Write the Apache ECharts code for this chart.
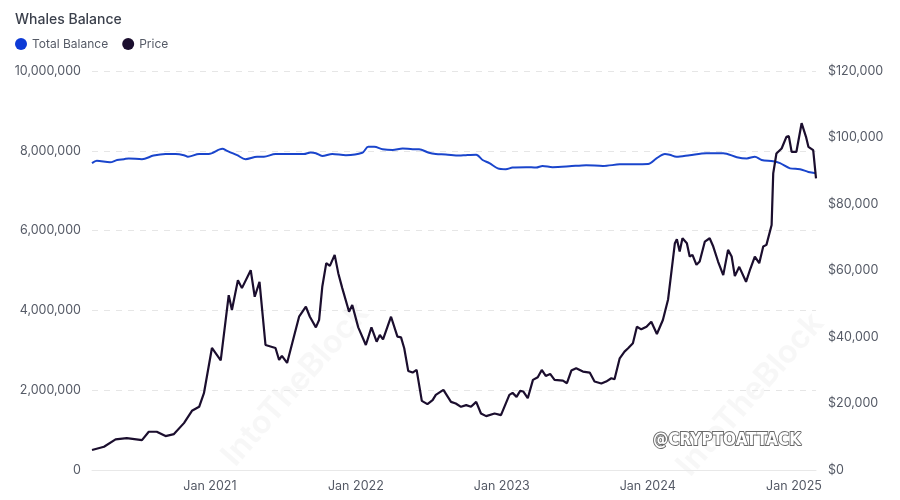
<!DOCTYPE html>
<html>
<head>
<meta charset="utf-8">
<script src="https://cdn.jsdelivr.net/npm/echarts@6/dist/echarts.min.js"></script>
<style>
html,body{margin:0;padding:0;background:#fff;}
#chart{width:900px;height:500px;}
</style>
</head>
<body>
<div id="chart"></div>
<script>
const priceDates = ['2020-03-12','2020-04-11','2020-05-10','2020-06-07','2020-07-15','2020-08-01','2020-08-21','2020-09-12','2020-10-03','2020-10-28','2020-11-17','2020-12-05','2020-12-17','2021-01-06','2021-01-28','2021-02-17','2021-02-25','2021-03-12','2021-03-22','2021-04-13','2021-04-23','2021-05-05','2021-05-20','2021-06-14','2021-06-23','2021-06-30','2021-07-13','2021-07-30','2021-08-12','2021-08-29','2021-09-08','2021-09-23','2021-10-01','2021-10-09','2021-10-19','2021-10-28','2021-11-09','2021-11-18','2021-11-28','2021-12-15','2021-12-23','2022-01-07','2022-01-26','2022-02-09','2022-02-22','2022-03-02','2022-03-10','2022-03-30','2022-04-15','2022-04-24','2022-05-02','2022-05-12','2022-05-23','2022-06-02','2022-06-15','2022-06-29','2022-07-12','2022-07-20','2022-08-08','2022-08-27','2022-09-08','2022-09-21','2022-10-04','2022-10-16','2022-10-29','2022-11-10','2022-11-23','2022-12-14','2022-12-30','2023-01-20','2023-01-28','2023-02-07','2023-02-16','2023-02-24','2023-03-07','2023-03-20','2023-04-01','2023-04-11','2023-04-21','2023-05-02','2023-05-13','2023-06-03','2023-06-13','2023-06-24','2023-07-06','2023-07-23','2023-08-09','2023-08-21','2023-09-07','2023-09-19','2023-10-02','2023-10-10','2023-10-23','2023-11-04','2023-11-13','2023-11-25','2023-12-05','2023-12-16','2023-12-29','2024-01-10','2024-01-24','2024-02-08','2024-02-21','2024-03-09','2024-03-14','2024-03-21','2024-03-28','2024-04-08','2024-04-15','2024-04-22','2024-05-02','2024-05-10','2024-05-23','2024-06-04','2024-06-13','2024-06-25','2024-07-08','2024-07-20','2024-07-29','2024-08-06','2024-08-17','2024-09-03','2024-09-14','2024-09-25','2024-10-06','2024-10-16','2024-10-24','2024-11-06','2024-11-10','2024-11-18','2024-12-01','2024-12-13','2024-12-19','2024-12-26','2025-01-07','2025-01-20','2025-01-31','2025-02-06','2025-02-18','2025-02-25'];
const priceValues = [6000,7000,9200,9600,9000,11500,11500,10200,10800,14100,17800,19000,23100,36700,33000,52600,48100,57100,54700,60100,52100,56600,37600,36700,33100,34300,32200,40100,46100,49100,46100,42900,45100,55100,62200,61400,64700,59200,54700,47600,49600,42900,37600,42900,38600,40600,39300,46100,40100,39900,36600,29800,29300,30100,20800,19800,21000,22600,24100,20500,20000,19000,19500,19000,20500,17000,16200,17000,16500,22600,23200,22000,23800,23600,21600,27100,27900,30100,28300,28900,27100,26900,26100,29900,30600,29600,29300,26600,26000,26600,27600,27300,33600,35600,36600,38100,43100,42300,43100,44600,40900,45100,51300,68200,69400,65700,69700,68200,64200,64700,61700,62700,68700,69700,67200,62700,58600,66200,64200,58300,61100,56600,60600,64200,62200,67200,67700,73700,89200,95200,96700,100200,100400,95700,95700,104300,100200,97200,96200,87700];

const balanceDates = ['2020-03-12','2020-03-24','2020-04-26','2020-05-14','2020-05-31','2020-06-12','2020-07-15','2020-08-13','2020-09-12','2020-10-07','2020-10-28','2020-11-07','2020-12-05','2020-12-29','2021-02-01','2021-02-13','2021-03-10','2021-03-31','2021-04-29','2021-05-16','2021-06-14','2021-07-30','2021-08-24','2021-09-10','2021-09-23','2021-10-09','2021-11-03','2021-12-07','2022-01-17','2022-02-01','2022-02-16','2022-03-09','2022-04-03','2022-04-28','2022-05-23','2022-06-08','2022-07-03','2022-07-20','2022-08-14','2022-09-17','2022-10-03','2022-10-29','2022-11-14','2022-12-01','2022-12-22','2023-01-11','2023-01-28','2023-03-03','2023-03-28','2023-04-13','2023-05-08','2023-06-19','2023-07-31','2023-09-11','2023-10-23','2024-01-02','2024-01-23','2024-02-13','2024-02-25','2024-03-13','2024-04-15','2024-05-27','2024-07-08','2024-08-11','2024-09-05','2024-09-25','2024-10-12','2024-11-10','2024-11-27','2024-12-22','2025-01-16','2025-02-06','2025-02-25'];
const balanceValues = [7690000,7750000,7710000,7770000,7790000,7810000,7790000,7880000,7920000,7920000,7890000,7850000,7920000,7920000,8050000,8000000,7890000,7790000,7850000,7850000,7920000,7920000,7920000,7960000,7940000,7870000,7920000,7890000,7950000,8100000,8100000,8040000,8020000,8060000,8040000,8040000,7950000,7920000,7910000,7880000,7890000,7900000,7770000,7690000,7560000,7540000,7580000,7590000,7580000,7620000,7590000,7610000,7640000,7620000,7660000,7670000,7810000,7920000,7900000,7850000,7890000,7940000,7940000,7840000,7810000,7850000,7770000,7740000,7690000,7560000,7540000,7470000,7440000];

const leftTicks = {min: 0, max: 10000000, step: 2000000};
const rightTicks = {min: 0, max: 120000, step: 20000};
const xLabelPrefix = 'Jan ';

const chart = echarts.init(document.getElementById('chart'));
const fmtNum = v => v.toLocaleString('en-US');
const textColor = '#555a66';
const font = 'Inter, "Noto Sans", sans-serif';

chart.setOption({
  animation: false,
  backgroundColor: '#ffffff',
  textStyle: {fontFamily: font},
  title: {
    text: 'Whales Balance', left: 10, top: 8,
    textStyle: {fontSize: 14, fontWeight: 500, color: '#3b404c', fontFamily: font}
  },
  legend: {
    left: 10, top: 33, icon: 'circle', itemWidth: 12, itemHeight: 12, itemGap: 14,
    textStyle: {fontSize: 12, color: textColor, fontFamily: font},
    data: ['Total Balance', 'Price']
  },
  grid: {left: 92, right: 84, top: 71, bottom: 30},
  xAxis: {
    type: 'time',
    min: priceDates[0], max: priceDates[priceDates.length - 1],
    minInterval: 365 * 24 * 3600 * 1000,
    axisLine: {show: true, lineStyle: {color: '#e8e8e8'}},
    axisTick: {show: false},
    splitLine: {show: false},
    axisLabel: {
      color: textColor, fontSize: 12.5, fontFamily: font, margin: 10,
      showMinLabel: false, showMaxLabel: false,
      formatter: function (v) {
        const d = new Date(v);
        if (d.getMonth() === 0 && d.getDate() === 1) return xLabelPrefix + d.getFullYear();
        return '';
      }
    }
  },
  yAxis: [{
    type: 'value', min: leftTicks.min, max: leftTicks.max, interval: leftTicks.step,
    axisLine: {show: false}, axisTick: {show: false},
    splitLine: {show: true, lineStyle: {color: '#e6e6e6', type: [6, 6]}},
    axisLabel: {color: textColor, fontSize: 12.5, fontFamily: font, margin: 11, formatter: fmtNum}
  }, {
    type: 'value', min: rightTicks.min, max: rightTicks.max, interval: rightTicks.step,
    axisLine: {show: false}, axisTick: {show: false},
    splitLine: {show: false},
    axisLabel: {color: textColor, fontSize: 12.5, fontFamily: font, margin: 12, formatter: v => '$' + fmtNum(v)}
  }],
  series: [{
    name: 'Total Balance', type: 'line', yAxisIndex: 0, showSymbol: false, smooth: 0.3,
    color: '#0d3ad6',
    lineStyle: {width: 2, color: '#1a45cc'},
    data: balanceDates.map((d, i) => [d, balanceValues[i]])
  }, {
    name: 'Price', type: 'line', yAxisIndex: 1, showSymbol: false,
    color: '#1b0e2e',
    lineStyle: {width: 2.2, color: '#1b0e2e'},
    data: priceDates.map((d, i) => [d, priceValues[i]])
  }],
  graphic: [
    {type: 'text', x: 240, y: 472, rotation: 0.85, silent: true, z: -1,
     style: {text: 'IntoTheBlock', font: 'bold 32px Inter, sans-serif', fill: 'rgba(0,0,0,0.03)', textVerticalAlign: 'bottom'}},
    {type: 'text', x: 695, y: 482, rotation: 0.85, silent: true, z: -1,
     style: {text: 'IntoTheBlock', font: 'bold 32px Inter, sans-serif', fill: 'rgba(0,0,0,0.03)', textVerticalAlign: 'bottom'}},
    {type: 'text', x: 727, y: 441, silent: true, z: 100,
     style: {text: '@CRYPTOATTACK', font: 'bold 17px "Liberation Sans Narrow", "DejaVu Sans Condensed", sans-serif',
       fill: '#ffffff', stroke: '#6a6a6a', lineWidth: 1.8, textAlign: 'center', textVerticalAlign: 'middle'}}
  ]
});
</script>
</body>
</html>
